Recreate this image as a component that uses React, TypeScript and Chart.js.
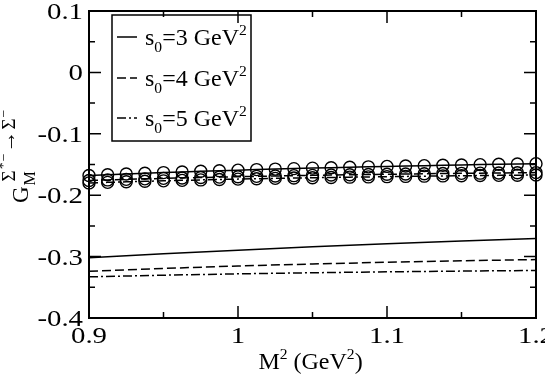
import React, { useEffect, useRef } from "react";
import { Chart, registerables } from "chart.js";

Chart.register(...registerables);

// ---- data ----
const xCircle = [
  0.9, 0.9125, 0.925, 0.9375, 0.95, 0.9625, 0.975, 0.9875, 1.0, 1.0125, 1.025, 1.0375, 1.05,
  1.0625, 1.075, 1.0875, 1.1, 1.1125, 1.125, 1.1375, 1.15, 1.1625, 1.175, 1.1875, 1.2,
];
const circlesS3 = [
  -0.168, -0.1667, -0.1655, -0.1643, -0.1632, -0.1621, -0.1611, -0.1601, -0.1592, -0.1583,
  -0.1575, -0.1567, -0.1559, -0.1552, -0.1545, -0.1538, -0.1531, -0.1525, -0.1519, -0.1513,
  -0.1507, -0.1502, -0.1496, -0.1491, -0.1486,
];
const circlesS4 = [
  -0.176, -0.1751, -0.1742, -0.1734, -0.1726, -0.1719, -0.1712, -0.1705, -0.1699, -0.1693,
  -0.1687, -0.1682, -0.1677, -0.1672, -0.1667, -0.1663, -0.1659, -0.1655, -0.1651, -0.1647,
  -0.1644, -0.1641, -0.1638, -0.1635, -0.1632,
];
const circlesS5 = [
  -0.18, -0.1791, -0.1782, -0.1774, -0.1766, -0.1758, -0.1751, -0.1744, -0.1738, -0.1732,
  -0.1726, -0.1721, -0.1716, -0.1711, -0.1706, -0.1702, -0.1698, -0.1694, -0.169, -0.1686,
  -0.1683, -0.168, -0.1677, -0.1674, -0.1671,
];
const xLine = [0.9, 0.95, 1.0, 1.05, 1.1, 1.15, 1.2];
const lineS3 = [-0.302, -0.2955, -0.2895, -0.284, -0.279, -0.2745, -0.2705];
const lineS4 = [-0.324, -0.3193, -0.3153, -0.312, -0.3092, -0.3068, -0.3048];
const lineS5 = [-0.333, -0.3303, -0.3281, -0.3263, -0.3248, -0.3236, -0.3226];

const xMajor = [0.9, 1.0, 1.1, 1.2];
const xMajorLabels = ["0.9", "1", "1.1", "1.2"];
const xMinor = [0.95, 1.05, 1.15];
const yMajor = [0.1, 0, -0.1, -0.2, -0.3, -0.4];
const yMajorLabels = ["0.1", "0", "-0.1", "-0.2", "-0.3", "-0.4"];
const yMinor = [0.05, -0.05, -0.15, -0.25, -0.35];
const legendValues = ["3", "4", "5"];

const FAM = '"Liberation Serif", "DejaVu Serif", serif';
const SOLID: number[] = [];
const DASH = [9, 4];
const DOTDASH = [9, 3, 2, 3];

type Part = [string, "n" | "sub" | "sup"];

function drawRich(
  ctx: CanvasRenderingContext2D,
  x: number,
  y: number,
  parts: Part[],
  size: number,
  align: "left" | "center" | "right",
  sx = 1
) {
  const small = size * 0.65;
  let w = 0;
  const widths: number[] = [];
  for (const [t, k] of parts) {
    ctx.font = `${k === "n" ? size : small}px ${FAM}`;
    const m = ctx.measureText(t).width;
    widths.push(m);
    w += m;
  }
  ctx.save();
  ctx.translate(x, y);
  ctx.scale(sx, 1);
  ctx.textAlign = "left";
  ctx.textBaseline = "alphabetic";
  let cx = align === "left" ? 0 : align === "center" ? -w / 2 : -w;
  parts.forEach(([t, k], i) => {
    ctx.font = `${k === "n" ? size : small}px ${FAM}`;
    const dy = k === "sub" ? size * 0.3 : k === "sup" ? -size * 0.42 : 0;
    ctx.fillText(t, cx, dy);
    cx += widths[i];
  });
  ctx.restore();
}

const overlay = {
  id: "overlay",
  afterDraw(chart: any) {
    const ctx: CanvasRenderingContext2D = chart.ctx;
    const { left, right, top, bottom } = chart.chartArea;
    const xs = chart.scales.x;
    const ys = chart.scales.y;
    ctx.save();
    ctx.strokeStyle = "#000";
    ctx.fillStyle = "#000";
    ctx.setLineDash([]);
    // frame
    ctx.lineWidth = 2;
    ctx.strokeRect(left, top, right - left, bottom - top);
    // ticks
    ctx.lineWidth = 1.5;
    const MAJ = 12;
    const MIN = 6;
    ctx.beginPath();
    xMajor.forEach((v) => {
      const p = xs.getPixelForValue(v);
      ctx.moveTo(p, bottom);
      ctx.lineTo(p, bottom - MAJ);
      ctx.moveTo(p, top);
      ctx.lineTo(p, top + MAJ);
    });
    xMinor.forEach((v) => {
      const p = xs.getPixelForValue(v);
      ctx.moveTo(p, bottom);
      ctx.lineTo(p, bottom - MIN);
      ctx.moveTo(p, top);
      ctx.lineTo(p, top + MIN);
    });
    yMajor.forEach((v) => {
      const p = ys.getPixelForValue(v);
      ctx.moveTo(left, p);
      ctx.lineTo(left + MAJ, p);
      ctx.moveTo(right, p);
      ctx.lineTo(right - MAJ, p);
    });
    yMinor.forEach((v) => {
      const p = ys.getPixelForValue(v);
      ctx.moveTo(left, p);
      ctx.lineTo(left + MIN, p);
      ctx.moveTo(right, p);
      ctx.lineTo(right - MIN, p);
    });
    ctx.stroke();

    // tick labels
    xMajor.forEach((v, i) => {
      const p = xs.getPixelForValue(v);
      drawRich(ctx, p, bottom + 25, [[xMajorLabels[i], "n"]], 24, "center", 1.2);
    });
    yMajor.forEach((v, i) => {
      const p = ys.getPixelForValue(v);
      drawRich(ctx, left - 6, p + 8, [[yMajorLabels[i], "n"]], 24, "right", 1.2);
    });

    // x title
    drawRich(
      ctx,
      (left + right) / 2 - 2,
      bottom + 51,
      [
        ["M", "n"],
        ["2", "sup"],
        [" (GeV", "n"],
        ["2", "sup"],
        [")", "n"],
      ],
      24,
      "center"
    );

    // y title (rotated)
    ctx.save();
    ctx.translate(28, 203);
    ctx.rotate(-Math.PI / 2);
    ctx.textAlign = "left";
    ctx.textBaseline = "alphabetic";
    ctx.font = `23px ${FAM}`;
    ctx.fillText("G", 0, 0);
    const gW = ctx.measureText("G").width + 1;
    ctx.font = `16px ${FAM}`;
    ctx.fillText("M", gW, 7);
    // superscript Σ*- → Σ-
    let cx = gW + 4;
    const supY = -13;
    const segs: [string, number, number][] = [
      ["Σ", 19, 0],
      ["*", 14, -7],
      ["−", 14, -7],
      ["→", 22, 0],
      ["Σ", 19, 0],
      ["−", 14, -7],
    ];
    for (const [t, s, dy] of segs) {
      ctx.font = `${s}px ${FAM}`;
      ctx.fillText(t, cx, supY + dy);
      cx += ctx.measureText(t).width + 1;
    }
    ctx.restore();

    // legend
    const bx = 112;
    const by = 15;
    const bw = 139;
    const bh = 126;
    ctx.lineWidth = 1.5;
    ctx.setLineDash([]);
    ctx.strokeRect(bx, by, bw, bh);
    const rows = [37, 78, 118];
    const dashes = [SOLID, DASH, DOTDASH];
    rows.forEach((ry, i) => {
      ctx.save();
      ctx.lineWidth = 1.5;
      ctx.setLineDash(dashes[i]);
      ctx.beginPath();
      ctx.moveTo(117, ry);
      ctx.lineTo(137, ry);
      ctx.stroke();
      ctx.restore();
      drawRich(
        ctx,
        145,
        ry + 8,
        [
          ["s", "n"],
          ["0", "sub"],
          ["=" + legendValues[i] + " GeV", "n"],
          ["2", "sup"],
        ],
        24,
        "left"
      );
    });
    ctx.restore();
  },
};

function pts(xs: number[], ys: number[]) {
  return xs.map((x, i) => ({ x, y: ys[i] }));
}

export default function App() {
  const ref = useRef<HTMLCanvasElement | null>(null);
  useEffect(() => {
    document.body.style.margin = "0";
    const canvas = ref.current;
    if (!canvas) return;
    const circleDs = (data: number[], dash: number[]) => ({
      data: pts(xCircle, data),
      borderColor: "#000",
      borderWidth: 1.5,
      borderDash: dash,
      pointRadius: 6,
      pointBorderWidth: 1.4,
      pointBorderColor: "#000",
      pointBackgroundColor: "rgba(0,0,0,0)",
      pointStyle: "circle",
      showLine: true,
      tension: 0,
      clip: false as any,
    });
    const lineDs = (data: number[], dash: number[]) => ({
      data: pts(xLine, data),
      borderColor: "#000",
      borderWidth: 1.5,
      borderDash: dash,
      pointRadius: 0,
      showLine: true,
      tension: 0,
    });
    const chart = new Chart(canvas, {
      type: "line",
      data: {
        datasets: [
          circleDs(circlesS3, SOLID),
          circleDs(circlesS4, DASH),
          circleDs(circlesS5, DOTDASH),
          lineDs(lineS3, SOLID),
          lineDs(lineS4, DASH),
          lineDs(lineS5, DOTDASH),
        ] as any,
      },
      options: {
        responsive: false,
        animation: false,
        devicePixelRatio: 1,
        layout: { padding: { top: 11, right: 9, left: 0, bottom: 0 }, autoPadding: false },
        plugins: { legend: { display: false }, tooltip: { enabled: false } },
        events: [],
        scales: {
          x: {
            type: "linear",
            min: 0.9,
            max: 1.2,
            grid: { display: false },
            border: { display: false },
            ticks: { display: false },
            afterFit: (s: any) => {
              s.height = 59;
            },
          },
          y: {
            type: "linear",
            min: -0.4,
            max: 0.1,
            grid: { display: false },
            border: { display: false },
            ticks: { display: false },
            afterFit: (s: any) => {
              s.width = 89;
            },
          },
        },
      } as any,
      plugins: [overlay],
    });
    return () => chart.destroy();
  }, []);
  return (
    <div style={{ width: 545, height: 377, background: "#fff" }}>
      <canvas ref={ref} width={545} height={377} style={{ display: "block" }} />
    </div>
  );
}
